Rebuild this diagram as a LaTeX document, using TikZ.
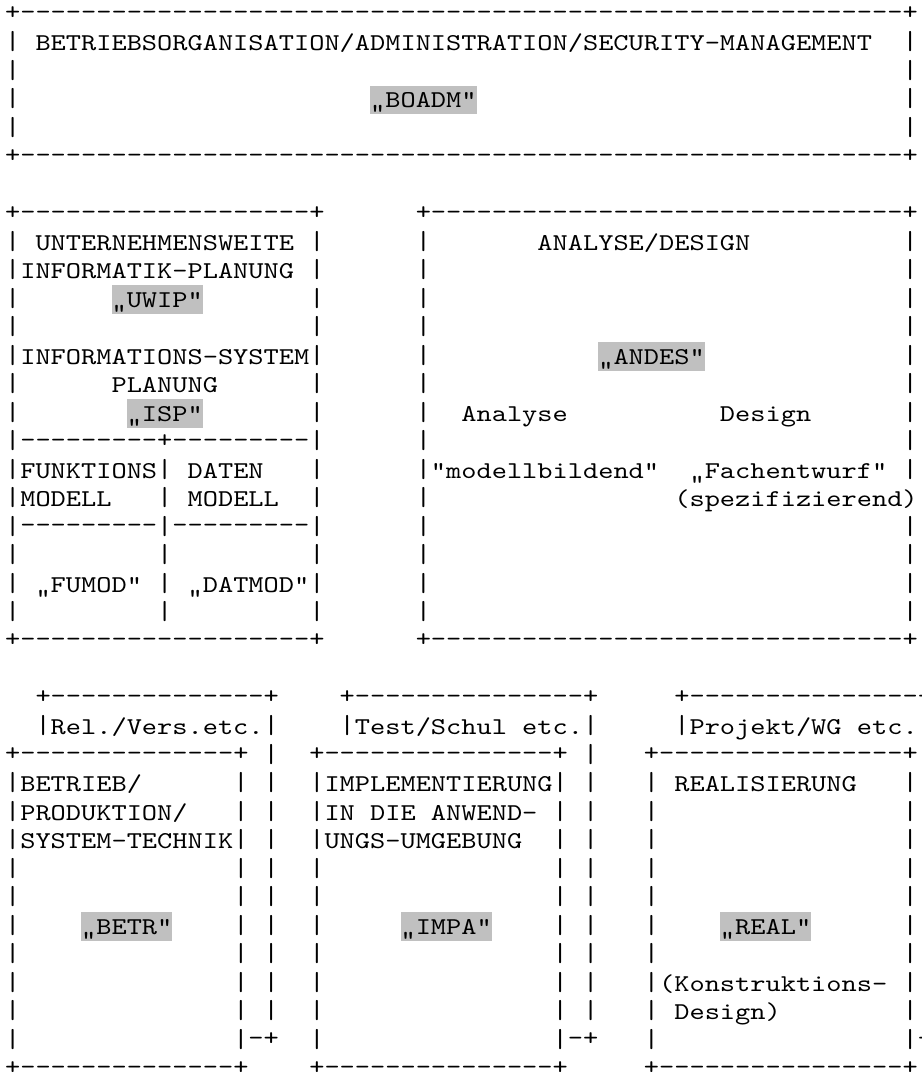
\documentclass[tikz,border=0pt]{standalone}
\usepackage{fontspec}
\usepackage{graphicx}
\newfontfamily\boxfont{lmmono10-regular.otf}[FakeStretch=1.2]
\definecolor{markgray}{RGB}{192,192,192}

\tikzset{
  ln/.style={anchor=base west, inner sep=0pt, outer sep=0pt,
    font=\boxfont\fontsize{18.107pt}{21.375pt}\selectfont},
  rl/.style={ln, yshift=2pt},
  tag/.style={ln, fill=markgray, text height=16.5pt, text depth=4.875pt},
}

% a slightly taller bar, as in the frames of the original
\newcommand\framebar{\raisebox{0.6pt}{\scalebox{1}[1.08]{|}}}

% one row of an ascii frame: row, first column, last column
\newcommand\asciirule[3]{%
  \pgfmathtruncatemacro\rulefrom{#2+1}%
  \pgfmathtruncatemacro\ruleto{#3-1}%
  \foreach \c in {\rulefrom,...,\ruleto}
    \node[rl] (d#1-\c) at (\c,#1) {-};
  \node[rl] (p#1-#2) at (#2,#1) {+};
  \node[rl] (p#1-#3) at (#3,#1) {+};
}

\begin{document}
\begin{tikzpicture}[x=11.4075pt, y=-21.375pt]

\useasboundingbox[fill=white] (-0.3353,-0.7789) rectangle (60.217,37.0105);
\clip (-0.3353,-0.7789) rectangle (60.217,37.0105);

% top box
\asciirule{0}{0}{59}
\asciirule{5}{0}{59}
\foreach \r in {1,...,4} {
  \node[ln] (tl\r) at (0,\r) {\framebar};
  \node[ln] (tr\r) at (59,\r) {\framebar};
}
\node[ln] (botitle) at (2,1) {BETRIEBSORGANISATION/ADMINISTRATION/SECURITY-MANAGEMENT};
\node[tag] (boadm) at (24,3) {„BOADM“};

% planning and design boxes
\asciirule{7}{0}{20}
\asciirule{7}{27}{59}
\asciirule{22}{0}{20}
\asciirule{22}{27}{59}
\foreach \r in {8,...,21} {
  \node[ln] (ul\r) at (0,\r) {\framebar};
  \node[ln] (ur\r) at (20,\r) {\framebar};
  \node[ln] (al\r) at (27,\r) {\framebar};
}
\foreach \r in {8,...,16,18,19,20,21}
  \node[ln] (ar\r) at (59,\r) {\framebar};
\foreach \c in {1,...,9,11,12,...,19} {
  \node[rl] (sa\c) at (\c,15) {-};
  \node[rl] (sb\c) at (\c,18) {-};
}
\node[rl] (split) at (10,15) {+};
\foreach \r in {16,...,21}
  \node[ln] (sm\r) at (10,\r) {\framebar};

\node[ln] (uwtitle) at (2,8) {UNTERNEHMENSWEITE};
\node[ln] (uwsub) at (1,9) {INFORMATIK-PLANUNG};
\node[tag] (uwip) at (7,10) {„UWIP“};
\node[ln] (isptitle) at (1,12) {INFORMATIONS-SYSTEM};
\node[ln] (ispsub) at (7,13) {PLANUNG};
\node[tag] (isp) at (8,14) {„ISP“};
\node[ln] (futitle) at (1,16) {FUNKTIONS};
\node[ln] (fusub) at (1,17) {MODELL};
\node[ln] (dattitle) at (12,16) {DATEN};
\node[ln] (datsub) at (12,17) {MODELL};
\node[ln] (fumod) at (2,20) {„FUMOD“};
\node[ln] (datmod) at (12,20) {„DATMOD“};

\node[ln] (antitle) at (35,8) {ANALYSE/DESIGN};
\node[tag] (andes) at (39,12) {„ANDES“};
\node[ln] (analyse) at (30,14) {Analyse};
\node[ln] (design) at (47,14) {Design};
\node[ln] (modell) at (28,16) {“modellbildend“};
\node[ln] (fach) at (45,16) {„Fachentwurf“};
\node[ln] (spez) at (44,17) {(spezifizierend)};

% bottom boxes
\asciirule{24}{2}{17}
\asciirule{24}{22}{38}
\asciirule{24}{44}{61}
\asciirule{26}{0}{15}
\asciirule{26}{20}{36}
\asciirule{26}{42}{59}
\asciirule{37}{0}{15}
\asciirule{37}{20}{36}
\asciirule{37}{42}{59}
\foreach \c in {2,22,44}
  \node[ln] (hl\c) at (\c,25) {\framebar};
\foreach \c in {17,38,61}
  \foreach \r in {25,...,35}
    \node[ln] (hr\c-\r) at (\c,\r) {\framebar};
\foreach \c in {0,15,20,36,42,59}
  \foreach \r in {27,...,36}
    \node[ln] (b\c-\r) at (\c,\r) {\framebar};
\foreach \c in {16,37,60}
  \node[rl] (e\c) at (\c,36) {-+};

\node[ln] (rel) at (3,25) {Rel./Vers.etc.};
\node[ln] (test) at (23,25) {Test/Schul};
\node[ln] (testetc) at (34,25) {etc.};
\node[ln] (proj) at (45,25) {Projekt/WG};
\node[ln] (projetc) at (56,25) {etc.};

\node[ln] (betra) at (1,27) {BETRIEB/};
\node[ln] (betrb) at (1,28) {PRODUKTION/};
\node[ln] (betrc) at (1,29) {SYSTEM-TECHNIK};
\node[tag] (betr) at (5,32) {„BETR“};

\node[ln] (impa1) at (21,27) {IMPLEMENTIERUNG};
\node[ln] (impa2) at (21,28) {IN};
\node[ln] (impa3) at (24,28) {DIE};
\node[ln] (impa4) at (28,28) {ANWEND-};
\node[ln] (impa5) at (21,29) {UNGS-UMGEBUNG};
\node[tag] (impa) at (26,32) {„IMPA“};

\node[ln] (realtitle) at (44,27) {REALISIERUNG};
\node[tag] (real) at (47,32) {„REAL“};
\node[ln] (konst) at (43,34) {(Konstruktions-};
\node[ln] (konstb) at (44,35) {Design)};

\end{tikzpicture}
\end{document}
